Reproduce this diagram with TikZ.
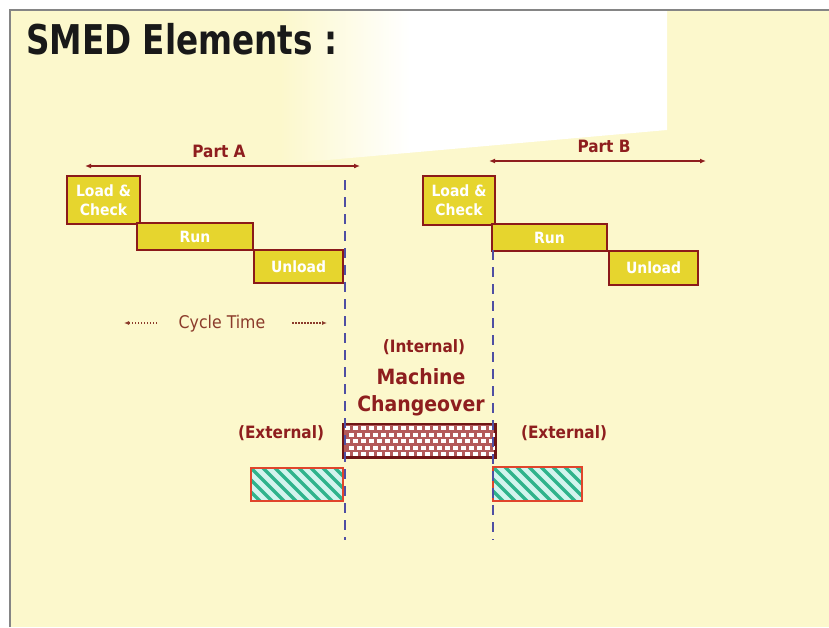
\documentclass[tikz,border=0pt]{standalone}
\usepackage{fontspec}
\setmainfont{DejaVu Sans Condensed}
\usetikzlibrary{arrows.meta, positioning, calc}
\definecolor{smBack}{HTML}{FCF8CC}
\definecolor{smFrame}{HTML}{858585}
\definecolor{smStep}{HTML}{E6D52E}
\definecolor{smEdge}{HTML}{8B1A1A}
\definecolor{smText}{HTML}{8E1E1E}
\definecolor{smCycle}{HTML}{8B3B2B}
\definecolor{smDash}{HTML}{4F4FA3}
\definecolor{smChange}{HTML}{B35A5A}
\definecolor{smHatch}{HTML}{2FB38C}
\definecolor{smCyan}{HTML}{D3F4EE}
\definecolor{smOrange}{HTML}{E0452B}
\tikzset{
  stepbox/.style={
    draw=smEdge, line width=2pt, fill=smStep, text=white, inner sep=0pt,
    font=\fontsize{15.5}{19}\selectfont\bfseries, align=center
  },
  changebox/.style={draw=smEdge!80!black, line width=1.5pt, fill=smChange, inner sep=0pt},
  extbox/.style={fill=smCyan, inner sep=0pt},
  label/.style={text=smText, font=\fontsize{17}{20}\selectfont\bfseries, inner sep=0pt},
  titletext/.style={font=\fontsize{41}{45}\selectfont\bfseries, text=black!90, inner sep=0pt},
  partarrow/.style={{Latex[length=6pt,width=5pt]}-{Latex[length=6pt,width=5pt]}, line width=1.5pt, smText},
  cyclearrow/.style={-{Latex[length=5pt,width=4pt]}, line width=1.2pt, smCycle, dash pattern=on 1.5pt off 1.5pt},
  cutline/.style={line width=1.8pt, smDash, dash pattern=on 10pt off 7pt},
  hatchline/.style={line width=3.2pt, smHatch}
}
\begin{document}
\begin{tikzpicture}[x=1pt, y=-1pt]
  \useasboundingbox (0,0) rectangle (829,627);
  % slide background
  \fill[white] (0,0) rectangle (829,627);
  \fill[smBack] (10,10) rectangle (829,627);
  \shade[left color=smBack, right color=white] (280,10) -- (410,10) -- (410,152.7) -- (280,164.2) -- cycle;
  \fill[white] (409,10) -- (667,10) -- (667,130) -- (409,152.8) -- cycle;
  \draw[smFrame, line width=1.5pt] (10,627) -- (10,10) -- (829,10);

  \node[titletext, transform shape, xscale=0.885, anchor=base west] (title) at (26,54) {SMED Elements :};

  % part A cycle
  \node[stepbox, minimum width=73pt, minimum height=48pt] (loadA) at (103.5,200) {Load \&\\Check};
  \node[stepbox, minimum width=116pt, minimum height=27pt] (runA) at (195,236.5) {Run};
  \node[stepbox, minimum width=89pt, minimum height=33pt] (unloadA) at (298.5,266.5) {Unload};

  % part B cycle
  \node[stepbox, minimum width=72pt, minimum height=49pt] (loadB) at (459,200.5) {Load \&\\Check};
  \node[stepbox, minimum width=115pt, minimum height=27pt] (runB) at (549.5,237.5) {Run};
  \node[stepbox, minimum width=89pt, minimum height=34pt] (unloadB) at (653.5,268) {Unload};

  % part arrows
  \coordinate (pA1) at (85,166);
  \coordinate (pA2) at (360,166);
  \coordinate (pB1) at (489,161);
  \coordinate (pB2) at (706,161);
  \draw[partarrow] (pA1) -- (pA2);
  \draw[partarrow] (pB1) -- (pB2);
  \node[label, anchor=base] (partA) at (219,157) {Part A};
  \node[label, anchor=base] (partB) at (604,152) {Part B};

  % cycle time
  \node[text=smCycle, font=\fontsize{17.5}{20}\selectfont, anchor=base, inner sep=0pt] (cycle) at (222,328) {Cycle Time};
  \coordinate (cyL1) at (157,323);
  \coordinate (cyL2) at (124,323);
  \coordinate (cyR1) at (292,323);
  \coordinate (cyR2) at (327,323);
  \draw[cyclearrow] (cyL1) -- (cyL2);
  \draw[cyclearrow] (cyR1) -- (cyR2);

  % changeover
  \node[label, anchor=base] (internal) at (424,352) {(Internal)};
  \node[label, font=\fontsize{21}{27}\selectfont\bfseries, align=center] (machine) at (421,392) {Machine\\Changeover};
  \node[label, anchor=base] (extLtext) at (281,438) {(External)};
  \node[label, anchor=base] (extRtext) at (564,438) {(External)};

  \node[changebox, minimum width=152pt, minimum height=33pt] (change) at (419,440.5) {};
  \begin{scope}
    \clip (change.north west) rectangle (change.south east);
    \foreach \r in {0,...,4}{
      \foreach \c in {0,...,19}{
        \fill[white] ({345+\c*8+mod(\r,2)*4},{426+\r*6.5}) rectangle ++(4.5,4);
      }
    }
  \end{scope}
  \draw[smEdge!80!black, line width=1.5pt] (change.north west) rectangle (change.south east);

  % external steps
  \node[extbox, minimum width=92pt, minimum height=33pt] (extA) at (297,484.5) {};
  \node[extbox, minimum width=89pt, minimum height=34pt] (extB) at (537.5,484) {};
  \foreach \e in {extA, extB}{
    \begin{scope}
      \clip (\e.north west) rectangle (\e.south east);
      \foreach \k in {-4,...,9}{
        \draw[hatchline] ($(\e.north west)+(\k*12,0)$) -- ++(36,36);
      }
    \end{scope}
    \draw[smOrange, line width=1.5pt] (\e.north west) rectangle (\e.south east);
  }

  % cut lines
  \coordinate (dA1) at (345,180);
  \coordinate (dA2) at (345,540);
  \coordinate (dB1) at (493,250);
  \coordinate (dB2) at (493,540);
  \draw[cutline] (dA1) -- (dA2);
  \draw[cutline] (dB1) -- (dB2);
\end{tikzpicture}
\end{document}
